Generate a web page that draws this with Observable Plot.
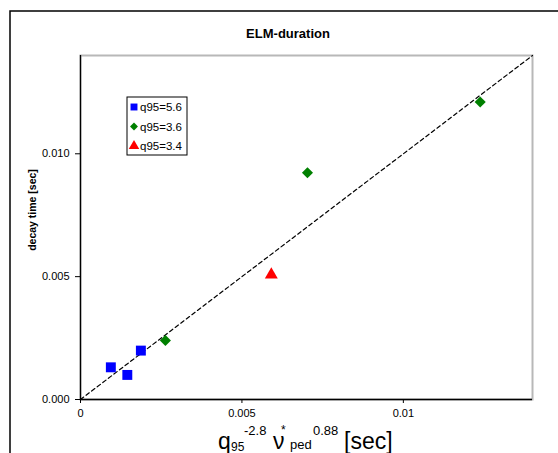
<!DOCTYPE html>
<html><head><meta charset="utf-8">
<script src="https://cdn.jsdelivr.net/npm/d3@7"></script>
<script src="https://cdn.jsdelivr.net/npm/@observablehq/plot@0.6"></script>
<style>
body{margin:0;background:#fff;font-family:"Liberation Sans",Arial,sans-serif;overflow:hidden}
#wrap{position:relative;width:558px;height:453px}
</style></head><body><div id="wrap"></div>
<script>
const title = "ELM-duration";
const yLabel = "decay time [sec]";
const series = ["q95=5.6", "q95=3.6", "q95=3.4"];
const seriesColors = ["#0000ff", "#008000", "#ff0000"];
const seriesSymbols = ["square", "diamond2", "triangle"];
const seriesR = [5.6, 5.0, 4.8];
const xs56 = [0.00094, 0.00145, 0.00187];
const ys56 = [0.00131, 0.00100, 0.00199];
const xs36 = [0.00263, 0.00703, 0.01238];
const ys36 = [0.00240, 0.00923, 0.01211];
const xs34 = [0.00591];
const ys34 = [0.00508];
const fitLine = [0, 0.014];
const xTicks = [0, 0.005, 0.01];
const yTicks = [0, 0.005, 0.01];
const domain = [0, 0.014];

const groups = [[xs56, ys56], [xs36, ys36], [xs34, ys34]];
const data = groups.flatMap(([xs, ys], i) => xs.map((x, j) => ({x, y: ys[j], s: series[i]})));
const lineData = fitLine.map(v => ({x: v, y: v}));

const W = 558, H = 453, mL = 80, mT = 55, mR = 26, mB = 54;
const plot = Plot.plot({
  width: W, height: H,
  marginLeft: mL, marginTop: mT, marginRight: mR, marginBottom: mB,
  style: {fontFamily: '"Liberation Sans", Arial, sans-serif', fontSize: "11px", color: "#000", background: "transparent"},
  x: {domain, ticks: xTicks, tickFormat: d => d === 0 ? "0" : String(d), label: null},
  y: {domain, ticks: yTicks, tickFormat: ".3f", label: null},
  marks: [
    Plot.frame({stroke: "#b8b8b8", strokeWidth: 2}),
    Plot.line(lineData, {x: "x", y: "y", stroke: "#000", strokeWidth: 1.2, strokeDasharray: "4,3"}),
    Plot.ruleX([0], {stroke: "#000", strokeWidth: 1.3}),
    Plot.ruleY([0], {stroke: "#000", strokeWidth: 1.3}),
    Plot.axisX({ticks: xTicks, tickSize: 4, tickPadding: 6, tickFormat: d => d === 0 ? "0" : String(d), label: null}),
    Plot.axisY({ticks: yTicks, tickSize: 5, tickPadding: 6, tickFormat: ".3f", label: null}),
    ...series.map((s, i) => Plot.dot(data.filter(d => d.s === s), {
      x: "x", y: "y", symbol: () => seriesSymbols[i], fill: seriesColors[i], stroke: "none", r: seriesR[i]
    }))
  ]
});
document.getElementById("wrap").appendChild(plot);

const svg = d3.select(plot);
// outer frame
svg.insert("rect", ":first-child").attr("x", 10).attr("y", 11).attr("width", 600).attr("height", 500)
  .attr("fill", "#fff").attr("stroke", "#000").attr("stroke-width", 1.5);
// title
svg.append("text").attr("x", 288).attr("y", 37.5).style("text-anchor", "middle")
  .style("font-size", "13px").style("font-weight", "bold").text(title);
// y label
svg.append("text").attr("transform", "translate(36,210) rotate(-90)").style("text-anchor", "middle")
  .style("font-size", "10.5px").style("font-weight", "bold").text(yLabel);
// x label with super/subscripts (text, x, baseline y, font size)
const parts = [
  ["q", 218, 449, 23], ["95", 231, 451, 12], ["-2.8", 244, 435, 13],
  ["ν", 273, 449, 23], ["*", 281, 434, 12], ["ped", 290, 449, 13],
  ["0.88", 313, 435, 13], ["[sec]", 344, 449, 23]
];
const xl = svg.append("g");
parts.forEach(([t, x, y, fs]) => xl.append("text").attr("x", x).attr("y", y)
  .style("text-anchor", "start").style("font-size", fs + "px").text(t));
// legend
const lg = svg.append("g").attr("transform", "translate(127,97)");
lg.append("rect").attr("width", 60).attr("height", 58).attr("fill", "#fff").attr("stroke", "#000").attr("stroke-width", 1);
series.forEach((s, i) => {
  const cy = 10 + i * 19.5;
  const sym = {square: d3.symbolSquare, diamond2: d3.symbolDiamond2, triangle: d3.symbolTriangle}[seriesSymbols[i]];
  lg.append("path").attr("transform", `translate(7,${cy})`)
    .attr("d", d3.symbol(sym, i === 0 ? 48 : i === 1 ? 40 : 48)()).attr("fill", seriesColors[i]);
  lg.append("text").attr("x", 13).attr("y", cy + 4).style("text-anchor", "start").style("font-size", "11.5px").text(s);
});
</script></body></html>
